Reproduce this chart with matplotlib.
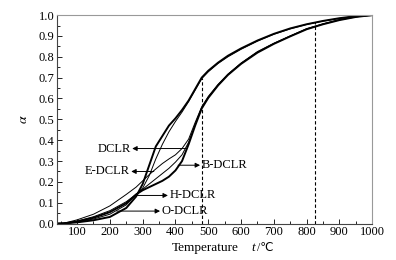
import matplotlib
matplotlib.use('Agg')
import matplotlib.pyplot as plt
from matplotlib.ticker import MultipleLocator

plt.rcParams['font.family'] = ['Liberation Serif', 'DejaVu Serif', 'DejaVu Sans']
plt.rcParams['mathtext.fontset'] = 'stix'

# temperature grid (℃) and conversion alpha of each sample
temp = [40, 60, 100, 150, 200, 250, 280, 300, 320, 340, 360, 380, 400, 420,
        440, 460, 480, 500, 530, 560, 600, 650, 700, 750, 800, 850, 900, 950, 1000]
e_dclr = [0, 0.002, 0.018, 0.045, 0.085, 0.14, 0.175, 0.205, 0.235, 0.262,
          0.288, 0.31, 0.33, 0.36, 0.405, 0.485, 0.56, 0.61, 0.668, 0.717,
          0.77, 0.825, 0.865, 0.90, 0.935, 0.958, 0.978, 0.992, 1.0]
dclr = [0, 0.001, 0.012, 0.033, 0.062, 0.105, 0.14, 0.165, 0.19, 0.215,
        0.24, 0.265, 0.295, 0.33, 0.39, 0.475, 0.555, 0.605, 0.665, 0.715,
        0.768, 0.822, 0.863, 0.899, 0.933, 0.957, 0.977, 0.991, 1.0]
b_dclr = [0, 0.001, 0.01, 0.028, 0.055, 0.098, 0.14, 0.16, 0.175, 0.19,
          0.205, 0.225, 0.255, 0.30, 0.38, 0.47, 0.552, 0.603, 0.663, 0.713,
          0.766, 0.82, 0.862, 0.898, 0.932, 0.956, 0.976, 0.991, 1.0]
h_dclr = [0, 0.001, 0.006, 0.016, 0.032, 0.075, 0.13, 0.19, 0.28, 0.37,
          0.42, 0.47, 0.505, 0.545, 0.59, 0.645, 0.70, 0.733, 0.772, 0.805,
          0.84, 0.878, 0.91, 0.936, 0.956, 0.972, 0.985, 0.995, 1.0]
o_dclr = [0, 0.001, 0.008, 0.022, 0.045, 0.09, 0.14, 0.17, 0.23, 0.31,
          0.38, 0.44, 0.49, 0.535, 0.585, 0.64, 0.695, 0.728, 0.768, 0.80,
          0.836, 0.875, 0.908, 0.934, 0.955, 0.971, 0.984, 0.994, 1.0]

# reference temperatures (dashed) and alpha where they meet the curves
ref_t = [480, 825]
ref_a = [0.70, 0.965]

# labels: name, arrow tail (on curve), arrow head, label x
labels = ['DCLR', 'E-DCLR', 'B-DCLR', 'H-DCLR', 'O-DCLR']
tail_t = [436, 334, 408, 282, 221]
head_t = [268, 265, 475, 377, 353]
lab_a = [0.36, 0.25, 0.28, 0.135, 0.06]
text_t = [263, 260, 480, 382, 358]

fig = plt.figure(figsize=(3.96, 2.6), dpi=100)
ax = fig.add_axes([0.145, 0.14, 0.795, 0.802])

ax.plot(temp, e_dclr, color='black', linewidth=0.7)
ax.plot(temp, dclr, color='black', linewidth=0.7)
ax.plot(temp, b_dclr, color='black', linewidth=1.4)
ax.plot(temp, h_dclr, color='black', linewidth=1.4)
ax.plot(temp, o_dclr, color='black', linewidth=0.7)

for t, a in zip(ref_t, ref_a):
    ax.plot([t, t], [0, a], color='black', linewidth=0.8, linestyle=(0, (3, 2)))

for name, t0, t1, a, tx in zip(labels, tail_t, head_t, lab_a, text_t):
    ax.annotate('', xy=(t1, a), xytext=(t0, a),
                arrowprops=dict(arrowstyle='-|>', color='black', lw=0.7,
                                mutation_scale=7, shrinkA=0, shrinkB=0))
    ha = 'right' if t1 < t0 else 'left'
    ax.text(tx, a, name, ha=ha, va='center', fontsize=9)

ax.set_xlim(40, 1000)
ax.set_ylim(0, 1.0)
ax.xaxis.set_major_locator(MultipleLocator(100))
ax.xaxis.set_minor_locator(MultipleLocator(50))
ax.yaxis.set_major_locator(MultipleLocator(0.1))
ax.yaxis.set_minor_locator(MultipleLocator(0.05))
ax.set_xticks(range(100, 1001, 100))
ax.yaxis.set_major_formatter(plt.FuncFormatter(lambda v, p: '%.1f' % v))
ax.tick_params(which='both', direction='in', labelsize=9, pad=2)
ax.tick_params(which='major', length=3.5, width=0.6)
ax.tick_params(which='minor', length=2, width=0.6)
ax.tick_params(top=False, right=False, which='both')

for s in ['top', 'right']:
    ax.spines[s].set_color('#999999')
for s in ['left', 'bottom']:
    ax.spines[s].set_color('#444444')
for s in ax.spines.values():
    s.set_linewidth(0.8)

# x label: "Temperature    t /℃"
ax.text(0.575, -0.117, 'Temperature', transform=ax.transAxes,
        ha='right', va='center', fontsize=9.5)
ax.text(0.617, -0.117, 't', transform=ax.transAxes, ha='left', va='center',
        fontsize=9.5, style='italic')
ax.text(0.635, -0.117, '/℃', transform=ax.transAxes, ha='left', va='center',
        fontsize=8.5, family=['Liberation Serif', 'DejaVu Sans'])
ax.set_ylabel('$\\alpha$', fontsize=10, labelpad=6)

fig.savefig('out.png', dpi=100)
